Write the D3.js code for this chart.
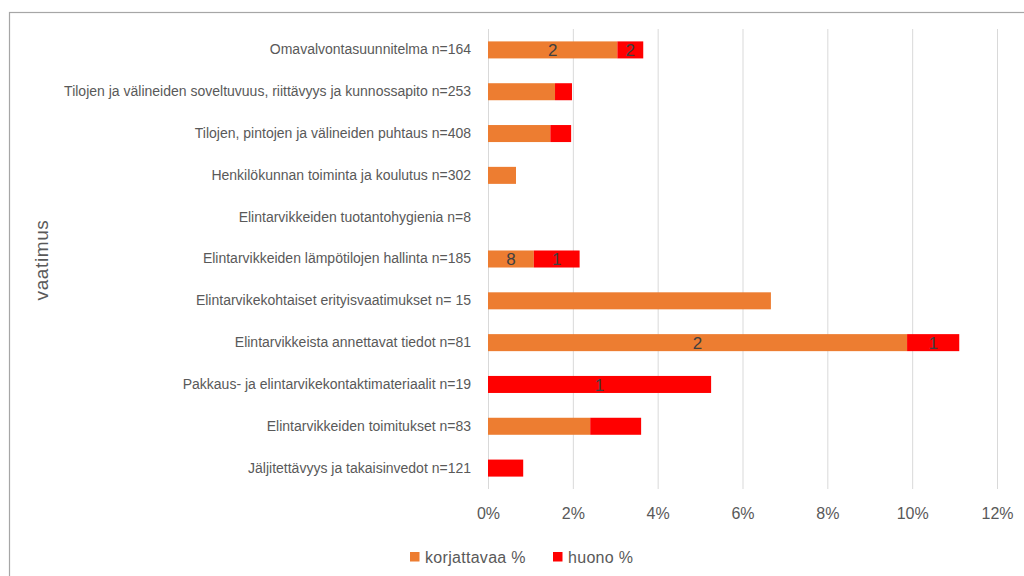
<!DOCTYPE html>
<html>
<head>
<meta charset="utf-8">
<script src="https://cdn.jsdelivr.net/npm/d3@7"></script>
<style>
  html, body { margin: 0; padding: 0; background: #fff; }
  svg { display: block; }
  text { font-family: "Liberation Sans", Arial, sans-serif; }
</style>
</head>
<body>
<svg id="chart" width="1024" height="576"></svg>
<script>
// Requirement categories, top to bottom
const categories = [
  "Omavalvontasuunnitelma n=164",
  "Tilojen ja välineiden soveltuvuus, riittävyys ja kunnossapito n=253",
  "Tilojen, pintojen ja välineiden puhtaus n=408",
  "Henkilökunnan toiminta ja koulutus n=302",
  "Elintarvikkeiden tuotantohygienia n=8",
  "Elintarvikkeiden lämpötilojen hallinta n=185",
  "Elintarvikekohtaiset erityisvaatimukset n= 15",
  "Elintarvikkeista annettavat tiedot n=81",
  "Pakkaus- ja elintarvikekontaktimateriaalit n=19",
  "Elintarvikkeiden toimitukset n=83",
  "Jäljitettävyys ja takaisinvedot n=121"
];

// Share of inspections (%) per rating
const korjattavaa = [3.05, 1.58, 1.47, 0.66, 0, 1.08, 6.67, 9.88, 0, 2.41, 0];
const huono       = [0.61, 0.40, 0.49, 0, 0, 1.08, 0, 1.23, 5.26, 1.20, 0.83];

// Data labels shown inside segments (null = no label)
const korjattavaaLabels = ["2", null, null, null, null, "8", null, "2", null, null, null];
const huonoLabels       = ["2", null, null, null, null, "1", null, "1", "1", null, null];

const xTicks = [0, 2, 4, 6, 8, 10, 12];
const seriesNames = ["korjattavaa %", "huono %"];
const colors = ["#ED7D31", "#FF0000"];

const svg = d3.select("#chart");

// Outer chart frame
svg.append("rect")
  .attr("x", 9.5).attr("y", 12.5)
  .attr("width", 1100).attr("height", 700)
  .attr("fill", "#fff")
  .attr("stroke", "#a6a6a6").attr("stroke-width", 1.2);

const plot = { left: 488, right: 997, top: 29, bottom: 489 };

const x = d3.scaleLinear().domain([0, 12]).range([plot.left, plot.right]);
const y = d3.scaleBand().domain(categories)
  .range([plot.top, plot.bottom])
  .paddingInner(0.593).paddingOuter(0.2965);

// Vertical gridlines
svg.append("g")
  .selectAll("line")
  .data(xTicks)
  .join("line")
  .attr("x1", d => x(d) + 0.5).attr("x2", d => x(d) + 0.5)
  .attr("y1", plot.top).attr("y2", plot.bottom)
  .attr("stroke", "#d9d9d9").attr("stroke-width", 1);

// X axis tick labels
const xAxis = d3.axisBottom(x).tickValues(xTicks).tickFormat(d => d + "%").tickSize(0).tickPadding(0);
const gx = svg.append("g").attr("transform", `translate(0, ${plot.bottom + 24})`).call(xAxis);
gx.select(".domain").remove();
gx.selectAll("text")
  .attr("fill", "#595959").attr("font-size", 16).attr("dy", "0.35em")
  .attr("y", 0);

// Category labels
const yAxis = d3.axisLeft(y).tickSize(0).tickPadding(0);
const gy = svg.append("g").attr("transform", `translate(${plot.left - 17}, 0)`).call(yAxis);
gy.select(".domain").remove();
gy.selectAll("text")
  .attr("fill", "#595959").attr("font-size", 14);

// Stacked bars
const rows = categories.map((c, i) => ({
  cat: c,
  segs: [
    { s: 0, x0: 0, x1: korjattavaa[i], label: korjattavaaLabels[i] },
    { s: 1, x0: korjattavaa[i], x1: korjattavaa[i] + huono[i], label: huonoLabels[i] }
  ]
}));

const barG = svg.append("g");
rows.forEach(r => {
  r.segs.filter(s => s.x1 > s.x0).forEach(s => {
    barG.append("rect")
      .attr("x", x(s.x0)).attr("y", y(r.cat))
      .attr("width", x(s.x1) - x(s.x0)).attr("height", y.bandwidth())
      .attr("fill", colors[s.s]);
  });
});

// Segment data labels
rows.forEach(r => {
  r.segs.filter(s => s.label !== null).forEach(s => {
    barG.append("text")
      .attr("x", (x(s.x0) + x(s.x1)) / 2)
      .attr("y", y(r.cat) + y.bandwidth() / 2)
      .attr("dy", "0.36em")
      .attr("text-anchor", "middle")
      .attr("font-size", 17)
      .attr("fill", "#404040")
      .text(s.label);
  });
});

// Y axis title
svg.append("text")
  .attr("transform", "translate(48, 260) rotate(-90)")
  .attr("text-anchor", "middle")
  .attr("font-size", 19)
  .attr("letter-spacing", 0.6)
  .attr("fill", "#595959")
  .text("vaatimus");

// Legend
const legendItems = [{ x: 410, name: seriesNames[0], c: colors[0] }, { x: 553, name: seriesNames[1], c: colors[1] }];
const lg = svg.append("g");
legendItems.forEach(it => {
  lg.append("rect").attr("x", it.x).attr("y", 552).attr("width", 9.5).attr("height", 9.5).attr("fill", it.c);
  lg.append("text").attr("x", it.x + 15).attr("y", 557).attr("dy", "0.35em")
    .attr("font-size", 16).attr("letter-spacing", 0.3).attr("fill", "#595959").text(it.name);
});
</script>
</body>
</html>
